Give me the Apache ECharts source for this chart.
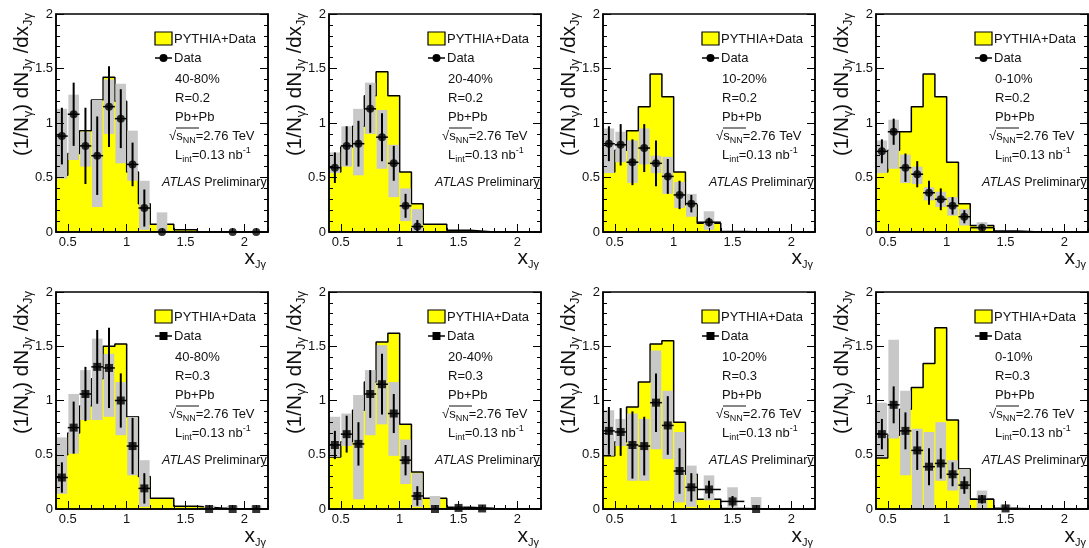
<!DOCTYPE html>
<html>
<head>
<meta charset="utf-8">
<script src="https://cdn.jsdelivr.net/npm/echarts@6/dist/echarts.min.js"></script>
<style>
html,body{margin:0;padding:0;background:#fff;}
#chart{width:1089px;height:548px;}
</style>
</head>
<body>
<div id="chart"></div>
<script>
// ---------------- data ----------------
const binEdges   = [0.4, 0.5, 0.6, 0.7, 0.8, 0.9, 1.0, 1.1, 1.2, 1.4, 1.6, 1.8, 2.0, 2.2];
const binCenters = [0.45, 0.55, 0.65, 0.75, 0.85, 0.95, 1.05, 1.15, 1.3, 1.5, 1.7, 1.9, 2.1];
const xTickLabels = [0.5, 1, 1.5, 2];
const yTickLabels = [0, 0.5, 1, 1.5, 2];
const centralityLabels = ['40-80%', '20-40%', '10-20%', '0-10%'];
const radiusLabels = ['0.2', '0.3'];

// R = 0.2
const pythia_R02_40_80 = [0.52, 0.72, 0.93, 1.21, 1.42, 1.20, 0.55, 0.26, 0.07, 0.02, 0, 0, 0];
const data_R02_40_80   = [0.88, 1.08, 0.79, 0.70, 1.15, 1.04, 0.62, 0.22, 0.00, null, null, 0.00, 0.00];
const stat_R02_40_80   = [0.26, 0.29, 0.35, 0.36, 0.37, 0.27, 0.20, 0.17, 0.00, null, null, 0.00, 0.00];
const sysLo_R02_40_80  = [0.49, 0.66, 0.60, 0.23, 0.90, 0.63, 0.47, 0.02, 0.00, null, null, null, null];
const sysHi_R02_40_80  = [1.13, 1.26, 0.92, 1.21, 1.40, 1.36, 0.93, 0.47, 0.18, null, null, null, null];

const pythia_R02_20_40 = [0.55, 0.78, 0.97, 1.25, 1.47, 1.25, 0.55, 0.26, 0.07, 0.015, 0, 0, 0];
const data_R02_20_40   = [0.59, 0.79, 0.81, 1.13, 0.87, 0.63, 0.24, 0.05, null, null, null, null, null];
const stat_R02_20_40   = [0.14, 0.18, 0.21, 0.22, 0.22, 0.16, 0.11, 0.06, null, null, null, null, null];
const sysLo_R02_20_40  = [0.54, 0.60, 0.52, 0.90, 0.58, 0.32, 0.10, 0.00, null, null, null, null, null];
const sysHi_R02_20_40  = [0.73, 0.97, 1.13, 1.37, 1.12, 0.80, 0.40, 0.21, null, null, null, null, null];

const pythia_R02_10_20 = [0.55, 0.75, 0.93, 1.15, 1.45, 1.24, 0.55, 0.25, 0.08, 0.005, 0, 0, 0];
const data_R02_10_20   = [0.81, 0.80, 0.64, 0.77, 0.63, 0.51, 0.34, 0.26, 0.09, null, null, null, null];
const stat_R02_10_20   = [0.16, 0.19, 0.21, 0.22, 0.21, 0.16, 0.13, 0.08, 0.04, null, null, null, null];
const sysLo_R02_10_20  = [0.54, 0.64, 0.45, 0.62, 0.54, 0.35, 0.22, 0.14, 0.02, null, null, null, null];
const sysHi_R02_10_20  = [0.95, 0.92, 0.84, 0.95, 0.70, 0.69, 0.46, 0.35, 0.19, null, null, null, null];

const pythia_R02_0_10  = [0.55, 0.75, 0.92, 1.15, 1.45, 1.24, 0.64, 0.26, 0.06, 0.01, 0, 0, 0];
const data_R02_0_10    = [0.74, 0.92, 0.59, 0.53, 0.36, 0.30, 0.24, 0.14, 0.04, null, null, null, null];
const stat_R02_0_10    = [0.11, 0.12, 0.13, 0.12, 0.11, 0.10, 0.08, 0.06, 0.02, null, null, null, null];
const sysLo_R02_0_10   = [0.54, 0.58, 0.45, 0.44, 0.29, 0.23, 0.15, 0.06, 0.02, null, null, null, null];
const sysHi_R02_0_10   = [0.84, 1.03, 0.71, 0.60, 0.41, 0.37, 0.32, 0.21, 0.09, null, null, null, null];

// R = 0.3
const pythia_R03_40_80 = [0.50, 0.70, 0.95, 1.20, 1.50, 1.52, 0.85, 0.30, 0.10, 0.025, 0.01, 0, 0];
const data_R03_40_80   = [0.29, 0.75, 1.06, 1.31, 1.30, 1.00, 0.58, 0.19, null, null, 0.00, 0.00, 0.00];
const stat_R03_40_80   = [0.14, 0.24, 0.25, 0.34, 0.37, 0.25, 0.26, 0.14, null, null, 0.00, 0.00, 0.00];
const sysLo_R03_40_80  = [0.14, 0.51, 0.82, 0.82, 0.85, 0.68, 0.31, 0.02, null, null, 0.00, 0.00, 0.00];
const sysHi_R03_40_80  = [0.66, 1.06, 1.28, 1.57, 1.43, 1.17, 0.85, 0.45, null, null, 0.03, 0.03, 0.03];

const pythia_R03_20_40 = [0.48, 0.62, 0.91, 1.17, 1.54, 1.62, 0.78, 0.34, 0.10, 0.015, 0.005, 0, 0];
const data_R03_20_40   = [0.59, 0.69, 0.60, 1.06, 1.15, 0.88, 0.45, 0.12, 0.00, 0.01, 0.005, null, null];
const stat_R03_20_40   = [0.13, 0.17, 0.20, 0.22, 0.28, 0.18, 0.14, 0.09, 0.00, 0.01, 0.005, null, null];
const sysLo_R03_20_40  = [0.48, 0.58, 0.09, 0.68, 0.78, 0.49, 0.23, 0.02, 0.00, 0.00, 0.00, null, null];
const sysHi_R03_20_40  = [0.85, 0.88, 1.05, 1.28, 1.51, 1.17, 0.64, 0.33, 0.12, 0.02, 0.01, null, null];

const pythia_R03_10_20 = [0.49, 0.62, 0.94, 1.17, 1.52, 1.55, 0.80, 0.32, 0.09, 0.005, 0, 0, 0];
const data_R03_10_20   = [0.72, 0.71, 0.59, 0.58, 0.98, 0.77, 0.35, 0.20, 0.18, 0.07, 0.00, null, null];
const stat_R03_10_20   = [0.22, 0.22, 0.31, 0.27, 0.27, 0.27, 0.21, 0.13, 0.08, 0.05, 0.00, null, null];
const sysLo_R03_10_20  = [0.49, 0.58, 0.26, 0.26, 0.55, 0.46, 0.06, 0.02, 0.08, 0.02, 0.00, null, null];
const sysHi_R03_10_20  = [0.91, 0.83, 0.88, 0.83, 1.46, 1.09, 0.71, 0.40, 0.31, 0.20, 0.11, null, null];

const pythia_R03_0_10  = [0.47, 0.68, 0.92, 1.12, 1.34, 1.67, 0.82, 0.37, 0.09, 0.005, 0, 0, 0];
const data_R03_0_10    = [0.69, 0.96, 0.72, 0.54, 0.39, 0.42, 0.32, 0.22, 0.09, 0.005, null, null, null];
const stat_R03_0_10    = [0.14, 0.17, 0.17, 0.18, 0.17, 0.14, 0.11, 0.08, 0.04, 0.01, null, null, null];
const sysLo_R03_0_10   = [0.48, 0.65, 0.31, 0.00, 0.00, 0.26, 0.17, 0.00, 0.00, 0.00, null, null, null];
const sysHi_R03_0_10   = [0.98, 1.56, 1.09, 0.74, 0.71, 0.80, 0.45, 0.37, 0.17, 0.04, null, null, null];

// ---------------- assembly ----------------
const panels = [
  {pythia: pythia_R02_40_80, data: data_R02_40_80, stat: stat_R02_40_80, lo: sysLo_R02_40_80, hi: sysHi_R02_40_80},
  {pythia: pythia_R02_20_40, data: data_R02_20_40, stat: stat_R02_20_40, lo: sysLo_R02_20_40, hi: sysHi_R02_20_40},
  {pythia: pythia_R02_10_20, data: data_R02_10_20, stat: stat_R02_10_20, lo: sysLo_R02_10_20, hi: sysHi_R02_10_20},
  {pythia: pythia_R02_0_10,  data: data_R02_0_10,  stat: stat_R02_0_10,  lo: sysLo_R02_0_10,  hi: sysHi_R02_0_10},
  {pythia: pythia_R03_40_80, data: data_R03_40_80, stat: stat_R03_40_80, lo: sysLo_R03_40_80, hi: sysHi_R03_40_80},
  {pythia: pythia_R03_20_40, data: data_R03_20_40, stat: stat_R03_20_40, lo: sysLo_R03_20_40, hi: sysHi_R03_20_40},
  {pythia: pythia_R03_10_20, data: data_R03_10_20, stat: stat_R03_10_20, lo: sysLo_R03_10_20, hi: sysHi_R03_10_20},
  {pythia: pythia_R03_0_10,  data: data_R03_0_10,  stat: stat_R03_0_10,  lo: sysLo_R03_0_10,  hi: sysHi_R03_0_10}
];

const FONT = "'Liberation Sans', Arial, Helvetica, sans-serif";
const TXT = '#111';
const YELLOW = '#ffff00';
const GREY = '#c8c8c8';
const SYS_HALF_W = 0.045;

const gridLeft = [56, 329, 603, 876];
const gridTop = [14, 292];
const gridW = 212;
const gridH = [218, 217];

const grids = [], xAxes = [], yAxes = [], series = [], graphics = [];

function isHalfMultiple(v) { return Math.abs(v * 2 - Math.round(v * 2)) < 1e-6; }

panels.forEach((p, g) => {
  const row = Math.floor(g / 4), col = g % 4;
  const L = gridLeft[col], T = gridTop[row];
  grids.push({left: L, top: T, width: gridW, height: gridH[row], show: true,
    borderColor: '#000', borderWidth: 1.5, backgroundColor: 'transparent', z: 5});

  // x axes: minor ticks (every 0.1) + major ticks/labels
  xAxes.push({gridIndex: g, type: 'value', min: 0.4, max: 2.2, interval: 0.1, position: 'bottom', z: 5,
    axisLine: {show: true, onZero: false, lineStyle: {color: '#000', width: 1.5}},
    axisTick: {show: true, inside: true, length: 4, lineStyle: {color: '#000', width: 1}},
    axisLabel: {show: false}, splitLine: {show: false}});
  xAxes.push({gridIndex: g, type: 'value', min: 0.4, max: 2.2, interval: 0.1, position: 'bottom', z: 5,
    axisLine: {show: false, onZero: false},
    axisTick: {show: true, inside: true, length: 8, customValues: xTickLabels, lineStyle: {color: '#000', width: 1}},
    axisLabel: {show: true, customValues: xTickLabels, margin: 4, fontSize: 13, fontFamily: FONT, color: TXT,
      formatter: v => isHalfMultiple(v) ? String(+v.toFixed(2)) : ''},
    splitLine: {show: false}});

  // y axes: left with labels, right ticks only
  const yBase = {gridIndex: g, type: 'value', min: yTickLabels[0], max: yTickLabels[yTickLabels.length - 1], interval: 0.5, z: 5,
    axisLine: {show: true, onZero: false, lineStyle: {color: '#000', width: 1.5}},
    axisTick: {show: true, inside: true, length: 8, lineStyle: {color: '#000', width: 1}},
    minorTick: {show: true, splitNumber: 5, length: 4, lineStyle: {color: '#000', width: 1}},
    splitLine: {show: false}, minorSplitLine: {show: false}};
  yAxes.push(Object.assign({}, yBase, {position: 'left',
    axisLabel: {show: true, margin: 3, fontSize: 13, fontFamily: FONT, color: TXT, formatter: v => String(v)}}));
  yAxes.push(Object.assign({}, yBase, {position: 'right', axisLabel: {show: false}}));

  const xi = 2 * g, yi = 2 * g;

  // PYTHIA+Data histogram (filled step)
  series.push({type: 'line', xAxisIndex: xi, yAxisIndex: yi, step: 'end', symbol: 'none', silent: true, z: 2,
    data: binEdges.map((e, i) => [e, p.pythia[Math.min(i, p.pythia.length - 1)]]),
    lineStyle: {color: '#000', width: 1.5}, areaStyle: {color: YELLOW, opacity: 1}});

  // systematic boxes
  series.push({type: 'custom', xAxisIndex: xi, yAxisIndex: yi, clip: true, silent: true, z: 3,
    data: binCenters.map((x, i) => p.lo[i] == null ? null : [x, p.lo[i], p.hi[i]]).filter(d => d),
    encode: {x: 0, y: [1, 2]},
    renderItem: (params, api) => {
      const x = api.value(0), lo = api.value(1), hi = api.value(2);
      const a = api.coord([x - SYS_HALF_W, hi]);
      const b = api.coord([x + SYS_HALF_W, lo]);
      return {type: 'rect', shape: {x: a[0], y: a[1], width: b[0] - a[0], height: b[1] - a[1]}, style: {fill: GREY}};
    }});

  // statistical error bars
  series.push({type: 'custom', xAxisIndex: xi, yAxisIndex: yi, clip: true, silent: true, z: 6,
    data: binCenters.map((x, i) => p.data[i] == null ? null :
      [x, p.data[i], p.stat[i] || 0, (binEdges[i + 1] - binEdges[i]) / 2]).filter(d => d),
    encode: {x: 0, y: 1},
    renderItem: (params, api) => {
      const x = api.value(0), y = api.value(1), s = api.value(2), hw = api.value(3);
      const t = api.coord([x, y + s]), b = api.coord([x, Math.max(0, y - s)]);
      const l = api.coord([x - hw, y]), r = api.coord([x + hw, y]);
      return {type: 'group', children: [
        {type: 'line', shape: {x1: t[0], y1: t[1], x2: b[0], y2: b[1]}, style: {stroke: '#000', lineWidth: 2}},
        {type: 'line', shape: {x1: l[0], y1: l[1], x2: r[0], y2: r[1]}, style: {stroke: '#000', lineWidth: 1.5}}
      ]};
    }});

  // data markers
  series.push({type: 'scatter', xAxisIndex: xi, yAxisIndex: yi, clip: false, silent: true, z: 7,
    symbol: row === 0 ? 'circle' : 'rect', symbolSize: 8, itemStyle: {color: '#000'},
    data: binCenters.map((x, i) => p.data[i] == null ? null : [x, p.data[i]]).filter(d => d)});

  // ---- texts ----
  const m13 = {fontSize: 13, fontFamily: FONT, fill: TXT, lineHeight: 18};
  const sub9 = {fontSize: 9, fontFamily: FONT, fill: TXT, lineHeight: 7, verticalAlign: 'bottom'};
  const sup9 = {fontSize: 9, fontFamily: FONT, fill: TXT, lineHeight: 7, verticalAlign: 'top'};
  const txt = (x, y, text) => graphics.push({type: 'text', x, y, z: 20,
    style: {text, fontSize: 13, fontFamily: FONT, fill: TXT, align: 'left', verticalAlign: 'middle'}});

  graphics.push({type: 'rect', z: 20, shape: {x: L + 99, y: T + 18, width: 17, height: 13},
    style: {fill: YELLOW, stroke: '#000', lineWidth: 1.2}});
  txt(L + 118, T + 25, 'PYTHIA+Data');
  graphics.push({type: 'line', z: 20, shape: {x1: L + 99, y1: T + 44, x2: L + 116, y2: T + 44}, style: {stroke: '#000', lineWidth: 1.5}});
  graphics.push(row === 0
    ? {type: 'circle', z: 21, shape: {cx: L + 107.5, cy: T + 44, r: 4}, style: {fill: '#000'}}
    : {type: 'rect', z: 21, shape: {x: L + 103.5, y: T + 40, width: 8, height: 8}, style: {fill: '#000'}});
  txt(L + 118, T + 44, 'Data');
  txt(L + 119, T + 65, centralityLabels[col]);
  txt(L + 119, T + 84, 'R=' + radiusLabels[row]);
  txt(L + 119, T + 103, 'Pb+Pb');
  graphics.push({type: 'text', x: L + 113, y: T + 122, z: 20, style: {
    text: '{m|√}{m|s}{s|NN}{m|=2.76 TeV}', align: 'left', verticalAlign: 'middle', fontSize: 13, fontFamily: FONT,
    rich: {m: m13, s: sub9}}});
  graphics.push({type: 'line', z: 20, shape: {x1: L + 120, y1: T + 114, x2: L + 143, y2: T + 114}, style: {stroke: TXT, lineWidth: 1}});
  graphics.push({type: 'text', x: L + 119, y: T + 141, z: 20, style: {
    text: '{m|L}{s|int}{m|=0.13 nb}{p|-1}', align: 'left', verticalAlign: 'middle', fontSize: 13, fontFamily: FONT,
    rich: {m: m13, s: sub9, p: sup9}}});
  graphics.push({type: 'text', x: L + 106, y: T + 169, z: 20, style: {
    text: '{i|ATLAS}{m| Preliminary}', align: 'left', verticalAlign: 'middle', fontSize: 12.5, fontFamily: FONT,
    rich: {i: {fontSize: 12.5, fontFamily: FONT, fontStyle: 'italic', fill: TXT, lineHeight: 18},
           m: {fontSize: 12.5, fontFamily: FONT, fill: TXT, lineHeight: 18}}}});

  // y title
  graphics.push({type: 'text', x: L - 34, y: T - 1, rotation: Math.PI / 2, z: 20, style: {
    text: '{m|(1/N}{s|γ}{m|) dN}{s|Jγ}{m| /dx}{s|Jγ}', align: 'right', verticalAlign: 'middle', fontSize: 20.5, fontFamily: FONT,
    rich: {m: {fontSize: 20.5, fontFamily: FONT, fill: TXT, lineHeight: 25},
           s: {fontSize: 13, fontFamily: FONT, fill: TXT, lineHeight: 8, verticalAlign: 'bottom'}}}});
  // x title
  graphics.push({type: 'text', x: L + 210, y: T + 244, z: 20, style: {
    text: '{m|x}{s|Jγ}', align: 'right', verticalAlign: 'middle', fontSize: 21, fontFamily: FONT,
    rich: {m: {fontSize: 21, fontFamily: FONT, fill: TXT, lineHeight: 24},
           s: {fontSize: 11, fontFamily: FONT, fill: TXT, lineHeight: 8, verticalAlign: 'bottom'}}}});
});

const chart = echarts.init(document.getElementById('chart'), null, {renderer: 'canvas'});
chart.setOption({
  animation: false,
  backgroundColor: '#fff',
  grid: grids,
  xAxis: xAxes,
  yAxis: yAxes,
  series: series,
  graphic: graphics
});
</script>
</body>
</html>
